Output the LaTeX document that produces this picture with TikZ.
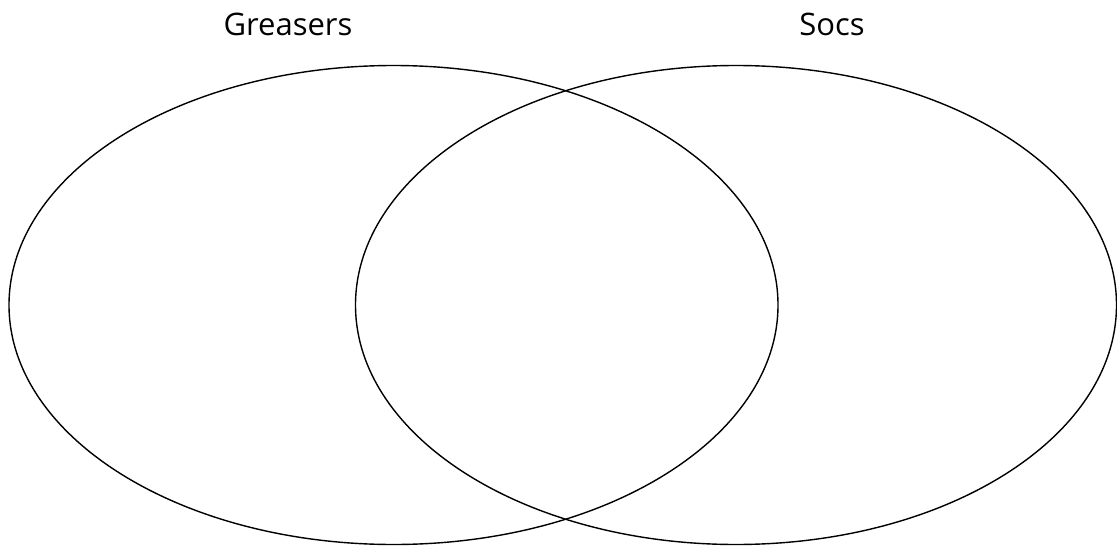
\documentclass[tikz,border=0pt]{standalone}
\usepackage{fontspec}
\setmainfont{Open Sans}
\begin{document}
\begin{tikzpicture}[x=1pt,y=-1pt,
  setshape/.style={draw=black,line width=1.4pt},
  setlabel/.style={font=\fontsize{31}{36}\selectfont,inner sep=0pt,anchor=base}]
\useasboundingbox (0,0) rectangle (1117,546);
\draw[setshape] (393.5,305) ellipse [x radius=384.5, y radius=239.5];
\draw[setshape] (736,305) ellipse [x radius=380.5, y radius=239.5];
\node[setlabel] (greasers) at (288,35) {Greasers};
\node[setlabel] (socs) at (832,35) {Socs};
\end{tikzpicture}
\end{document}
